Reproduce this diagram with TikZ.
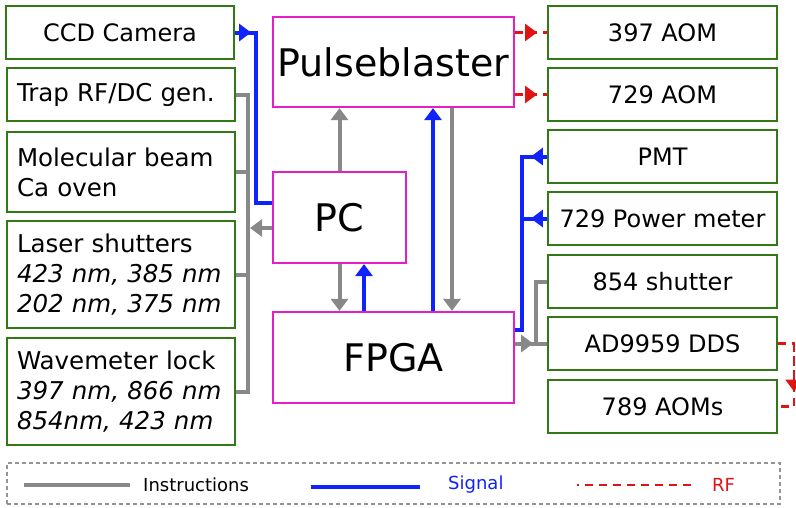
\documentclass[tikz,border=0pt]{standalone}
\usepackage{fontspec}
\setmainfont{DejaVu Sans}
\usetikzlibrary{arrows.meta}
\definecolor{boxgreen}{RGB}{50,120,20}
\definecolor{boxpink}{RGB}{230,30,200}
\definecolor{instrgray}{RGB}{136,136,136}
\definecolor{sigblue}{RGB}{15,35,250}
\definecolor{rfred}{RGB}{225,20,20}
\tikzset{
  dev/.style={draw=boxgreen, line width=2.2pt, minimum width=228pt, minimum height=53pt, inner sep=0pt, font=\fontsize{24}{30}\selectfont},
  devl/.style={dev, text width=208pt, align=left, inner xsep=10pt, font=\fontsize{24.5}{30}\selectfont},
  ctrl/.style={draw=boxpink, line width=2.2pt, inner sep=0pt, font=\fontsize{38}{44}\selectfont},
  instr/.style={draw=instrgray, line width=4pt},
  sig/.style={draw=sigblue, line width=4pt},
  rf/.style={draw=rfred, line width=2.5pt, dash pattern=on 8pt off 6pt},
  lgtext/.style={font=\fontsize{18}{22}\selectfont, anchor=west, inner sep=0pt},
}
\begin{document}
\begin{tikzpicture}[x=1pt, y=-1pt, >={Triangle[length=12pt 0 0,width=17pt 0 0]}]
\useasboundingbox (0,0) rectangle (796,507);
% devices on the left
\node[dev] (ccd) at (120,32.5) {CCD Camera};
\node[devl] (trap) at (121,94.5) {Trap RF/DC gen.};
\node[devl, minimum height=80pt] (oven) at (121,172) {Molecular beam\\Ca oven};
\node[devl, minimum height=107pt] (shut) at (121,274.5) {Laser shutters\\\textit{423 nm, 385 nm}\\\textit{202 nm, 375 nm}};
\node[devl, minimum height=107pt] (wlock) at (121,391.5) {Wavemeter lock\\\textit{397 nm, 866 nm}\\\textit{854nm, 423 nm}};
% controllers
\node[ctrl, minimum width=241pt, minimum height=90pt] (pb) at (393.5,62) {Pulseblaster};
\node[ctrl, minimum width=133pt, minimum height=91pt] (pc) at (339.5,217.5) {PC};
\node[ctrl, minimum width=241pt, minimum height=91pt] (fpga) at (393.5,357.5) {FPGA};
% devices on the right
\node[dev, minimum width=229pt] (aomA) at (662.5,32.5) {397 AOM};
\node[dev, minimum width=229pt] (aomB) at (662.5,94.5) {729 AOM};
\node[dev, minimum width=229pt] (pmt) at (662.5,156.5) {PMT};
\node[dev, minimum width=229pt] (pwr) at (662.5,218.5) {729 Power meter};
\node[dev, minimum width=229pt] (shutB) at (662.5,281.5) {854 shutter};
\node[dev, minimum width=229pt] (dds) at (662.5,343.5) {AD9959 DDS};
\node[dev, minimum width=229pt] (aomC) at (662.5,406.5) {789 AOMs};
% bus lines
\coordinate (lbus) at (248,0);
\coordinate (cbus) at (256,0);
\coordinate (rsig) at (522,0);
\coordinate (rins) at (536,0);
\coordinate (rrf) at (794,0);
% instructions to the left
\coordinate (pcl) at ([yshift=-10.5pt]pc.west);
\draw[instr] (trap.east) -| (lbus |- wlock.east) -- (wlock.east);
\draw[instr] (oven.east) -- (lbus |- oven.east);
\draw[instr] (shut.east) -- (lbus |- shut.east);
\draw[instr,->] (pcl) -- ([xshift=2pt]lbus |- pcl);
% camera signal
\coordinate (pcin) at ([yshift=15pt]pc.west);
\draw[sig] (ccd.east) -| (cbus |- pcin) -- (pcin);
\draw[sig,->] (ccd.east) -- ++(16,0);
% between the controllers
\draw[instr,->] (pc.north) -- (pc.north |- pb.south);
\draw[instr,->] (pc.south) -- (pc.south |- fpga.north);
\coordinate (fpc) at ([xshift=24.5pt]pc.south);
\draw[sig,->] (fpc |- fpga.north) -- (fpc);
\coordinate (fpbs) at ([xshift=39.5pt]fpga.north);
\draw[sig,->] (fpbs) -- (fpbs |- pb.south);
\coordinate (pbfs) at ([xshift=58.5pt]pb.south);
\draw[instr,->] (pbfs) -- (pbfs |- fpga.north);
% signals from the right
\coordinate (fsig) at ([yshift=27.5pt]fpga.east);
\draw[sig] (pmt.west) -| (rsig |- fsig) -- (fsig);
\draw[sig] (pwr.west) -- (rsig |- pwr.west);
\draw[sig,->] (pmt.west) -- ++(-16,0);
\draw[sig,->] (pwr.west) -- ++(-16,0);
% instructions to the right
\draw[instr] (fpga.east |- dds.west) -- (dds.west);
\draw[instr] (shutB.west) -| (rins |- dds.west);
\draw[instr,->] (fpga.east |- dds.west) -- ++(18,0);
% RF
\draw[rf] (pb.east |- aomA.west) -- (aomA.west);
\draw[rf,->] (pb.east |- aomA.west) -- ++(22,0);
\draw[rf] (pb.east |- aomB.west) -- (aomB.west);
\draw[rf,->] (pb.east |- aomB.west) -- ++(22,0);
\draw[rf] (dds.east) -| (rrf |- aomC.east) -- (aomC.east);
\draw[rf,->] (rrf |- dds.east) -- ++(0,48);
% legend
\node[draw=instrgray!90, dash pattern=on 4pt off 3pt, line width=1.5pt, minimum width=773pt, minimum height=41pt] (legend) at (393.5,483.5) {};
\node[lgtext] (lgI) at (143,485) {Instructions};
\node[lgtext, text=sigblue] (lgS) at (448,485) {Signal};
\node[lgtext, text=rfred] (lgR) at (712,485) {RF};
\draw[instr] ([xshift=-13pt]lgI.west) -- ++(-106,0);
\draw[sig] ([xshift=-28pt,yshift=-2pt]lgS.west) -- ++(-109,0);
\draw[rf] ([xshift=-21pt]lgR.west) -- ++(-114,0);
\end{tikzpicture}
\end{document}
